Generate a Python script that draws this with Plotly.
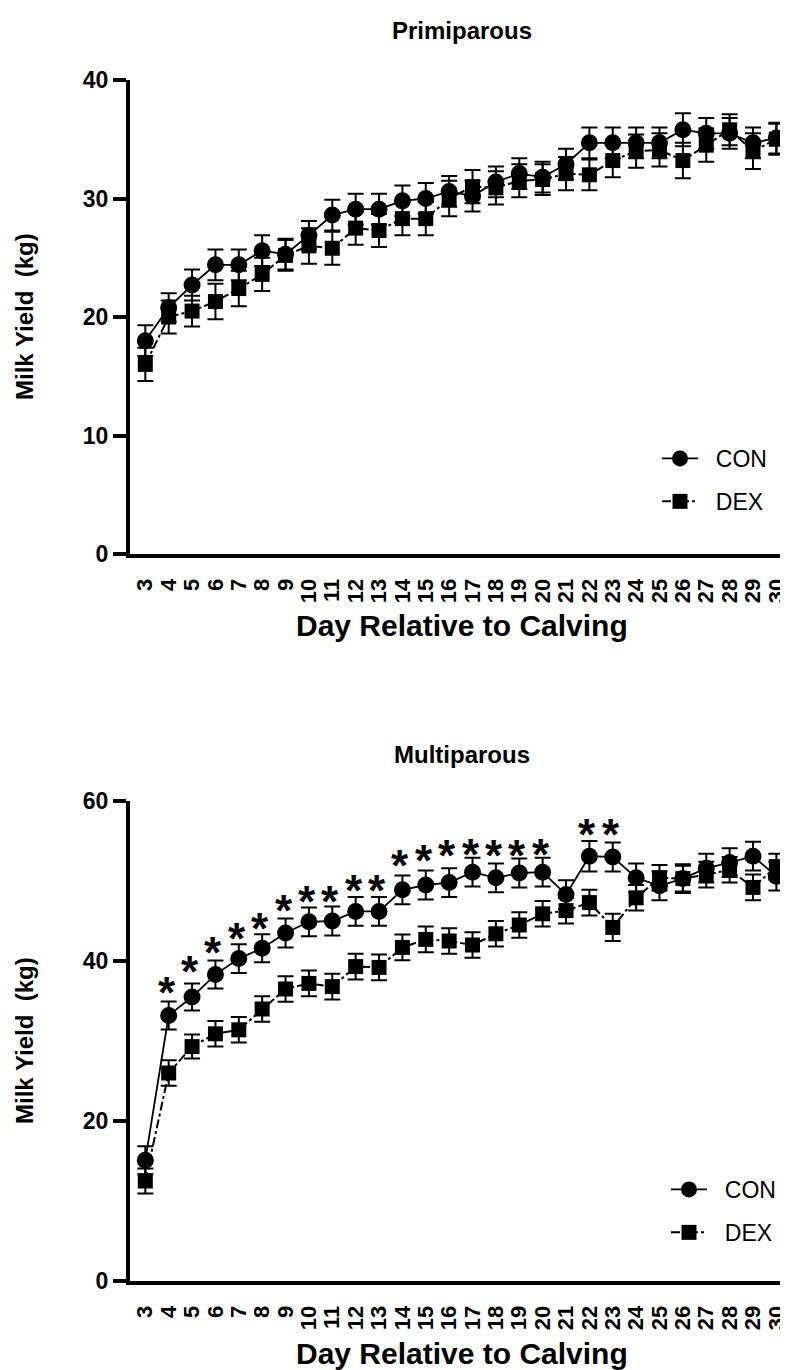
import plotly.graph_objects as go

W, H = 788, 1370

days = list(range(3, 31))
day_labels = [str(d) for d in days]
tick_days = [d for d in days if d != 4]  # the reference has no tick mark at day 4

# Primiparous (kg)
prim_con = [18.0, 20.8, 22.7, 24.4, 24.4, 25.6, 25.3, 26.9, 28.6, 29.1, 29.1, 29.8, 30.0, 30.6,
            30.2, 31.4, 32.1, 31.8, 32.9, 34.7, 34.7, 34.7, 34.7, 35.8, 35.5, 35.5, 34.7, 35.1]
prim_con_sem = [1.3, 1.2, 1.3, 1.3, 1.3, 1.3, 1.3, 1.2, 1.3, 1.3, 1.3, 1.3, 1.3, 1.3,
                1.3, 1.3, 1.3, 1.3, 1.3, 1.3, 1.3, 1.3, 1.3, 1.4, 1.3, 1.3, 1.3, 1.3]
prim_dex = [16.0, 20.0, 20.5, 21.3, 22.4, 23.6, 25.2, 26.0, 25.8, 27.5, 27.3, 28.3, 28.3, 30.0,
            31.0, 30.9, 31.5, 31.6, 32.1, 32.0, 33.2, 34.0, 34.1, 33.2, 34.5, 35.8, 34.0, 35.0]
prim_dex_sem = [1.4, 1.4, 1.3, 1.5, 1.5, 1.4, 1.3, 1.5, 1.4, 1.4, 1.4, 1.4, 1.4, 1.5,
                1.4, 1.4, 1.4, 1.3, 1.4, 1.3, 1.4, 1.4, 1.4, 1.5, 1.4, 1.3, 1.5, 1.3]

# Multiparous (kg)
multi_con = [15.1, 33.2, 35.5, 38.3, 40.3, 41.6, 43.5, 44.9, 45.0, 46.2, 46.2, 48.9, 49.5, 49.8,
             51.1, 50.4, 51.0, 51.1, 48.3, 53.1, 53.0, 50.4, 49.4, 50.3, 51.6, 52.3, 53.1, 50.6]
multi_con_sem = [1.75, 1.75, 1.7, 1.75, 1.8, 1.75, 1.8, 1.8, 1.8, 1.8, 1.8, 1.8, 1.8, 1.8,
                 1.8, 1.8, 1.8, 1.8, 1.8, 1.9, 1.8, 1.8, 1.8, 1.8, 1.8, 1.8, 1.8, 1.8]
multi_dex = [12.5, 26.0, 29.3, 30.9, 31.4, 34.0, 36.5, 37.2, 36.8, 39.3, 39.2, 41.7, 42.7, 42.5,
             42.0, 43.4, 44.5, 45.9, 46.3, 47.3, 44.2, 47.9, 50.4, 50.3, 50.8, 51.4, 49.2, 51.8]
multi_dex_sem = [1.55, 1.6, 1.5, 1.6, 1.6, 1.6, 1.6, 1.6, 1.6, 1.6, 1.6, 1.6, 1.6, 1.6,
                 1.6, 1.6, 1.6, 1.6, 1.6, 1.6, 1.7, 1.6, 1.6, 1.6, 1.6, 1.6, 1.6, 1.6]

# significance asterisks (Multiparous)
sig_days = [4, 5, 6, 7, 8, 9, 10, 11, 12, 13, 14, 15, 16, 17, 18, 19, 20, 22, 23]
sig_y = [36.8, 39.5, 41.8, 43.6, 44.8, 47.1, 48.2, 48.2, 49.6, 49.6, 52.7, 53.3, 54.0, 54.1,
         53.9, 53.9, 54.1, 56.6, 56.6]

FONT = "Liberation Sans, Arial, sans-serif"
NB = "\u00a0"

def px_x(p):
    return p / W

def px_y(p):
    return 1 - p / H

fig = go.Figure()

def add_pair(con, con_sem, dex, dex_sem, xa, ya, legend):
    fig.add_trace(go.Scatter(
        x=days, y=con, name=NB * 2 + "CON", mode="lines+markers", xaxis=xa, yaxis=ya,
        legend=legend, legendgroup="con" + legend,
        line=dict(color="black", width=1.8),
        marker=dict(symbol="circle", size=17, color="black"),
        error_y=dict(type="data", array=con_sem, color="black", thickness=2, width=8),
    ))
    fig.add_trace(go.Scatter(
        x=days, y=dex, name=NB * 2 + "DEX", mode="lines+markers", xaxis=xa, yaxis=ya,
        legend=legend, legendgroup="dex" + legend,
        line=dict(color="black", width=2, dash="dashdot"),
        marker=dict(symbol="square", size=15, color="black"),
        error_y=dict(type="data", array=dex_sem, color="black", thickness=2, width=8),
    ))

add_pair(prim_con, prim_con_sem, prim_dex, prim_dex_sem, "x", "y", "legend")
add_pair(multi_con, multi_con_sem, multi_dex, multi_dex_sem, "x2", "y2", "legend2")

xdom = [px_x(122), 1.0]
xrange = [2.345, 30.84]
tickfont = dict(family=FONT, size=22, color="black", weight="bold")

def xaxis_main(anchor):
    return dict(domain=xdom, range=xrange, anchor=anchor, showgrid=False, zeroline=False,
                showline=True, linecolor="black", linewidth=4,
                tickmode="array", tickvals=days, ticktext=day_labels, tickangle=-90,
                ticks="outside", ticklen=12, tickwidth=4, tickcolor="rgba(0,0,0,0)",
                tickfont=tickfont, automargin=False, fixedrange=True)

def xaxis_ticks(anchor, over):
    return dict(domain=xdom, range=xrange, anchor=anchor, overlaying=over, showgrid=False,
                zeroline=False, showline=False, tickmode="array", tickvals=tick_days,
                ticks="outside", ticklen=12, tickwidth=4, tickcolor="black",
                showticklabels=False, automargin=False, fixedrange=True)

def yaxis(dom, rng, dtick, anchor):
    return dict(domain=dom, range=rng, anchor=anchor, showgrid=False, zeroline=False,
                showline=True, linecolor="black", linewidth=4,
                tickmode="linear", tick0=0, dtick=dtick,
                ticks="outside", ticklen=13, tickwidth=4, tickcolor="black",
                tickfont=dict(family=FONT, size=23, color="black", weight="bold"),
                automargin=False, fixedrange=True)

legend_common = dict(font=dict(family=FONT, size=23, color="black"), bgcolor="rgba(0,0,0,0)",
                     borderwidth=0, itemwidth=36, tracegroupgap=10, xanchor="left", yanchor="top",
                     traceorder="grouped")

annotations = []
def add_text(text, x, y, size, angle=0, weight="bold"):
    annotations.append(dict(text=text, x=px_x(x), y=px_y(y), xref="paper", yref="paper",
                            showarrow=False, textangle=angle, xanchor="center", yanchor="middle",
                            font=dict(family=FONT, size=size, color="black", weight=weight)))

add_text("Primiparous", 454, 23, 24)
add_text("Multiparous", 454, 746, 24)
add_text("Day Relative to Calving", 454, 617, 30)
add_text("Day Relative to Calving", 454, 1345, 30)
add_text("Milk Yield" + NB + " (kg)", 16, 309, 24, angle=-90)
add_text("Milk Yield" + NB + " (kg)", 16, 1033, 24, angle=-90)

for d, yv in zip(sig_days, sig_y):
    annotations.append(dict(text="*", x=d, y=yv, xref="x2", yref="y2", showarrow=False,
                            xanchor="center", yanchor="middle", xshift=-2, yshift=-6,
                            font=dict(family=FONT, size=44, color="black", weight="bold")))

fig.update_layout(
    width=W, height=H, margin=dict(l=0, r=0, t=0, b=0),
    paper_bgcolor="white", plot_bgcolor="white", template="none",
    xaxis=xaxis_main("y"),
    xaxis2=xaxis_main("y2"),
    xaxis3=xaxis_ticks("y", "x"),
    xaxis4=xaxis_ticks("y2", "x2"),
    yaxis=yaxis([px_y(546), px_y(72)], [0, 40], 10, "x"),
    yaxis2=yaxis([px_y(1273), px_y(793)], [0, 60], 20, "x2"),
    legend=dict(x=px_x(649), y=px_y(429), **legend_common),
    legend2=dict(x=px_x(658), y=px_y(1160), **legend_common),
    annotations=annotations,
    showlegend=True,
)

fig.write_html("out.html")
